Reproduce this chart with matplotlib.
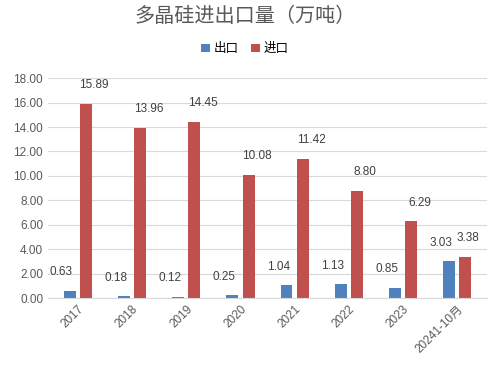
import numpy as np
import matplotlib.pyplot as plt

plt.rcParams['font.family'] = ['Liberation Sans', 'Noto Sans CJK SC', 'DejaVu Sans']

years = ['2017', '2018', '2019', '2020', '2021', '2022', '2023', '20241-10月']
export = [0.63, 0.18, 0.12, 0.25, 1.04, 1.13, 0.85, 3.03]
imports = [15.89, 13.96, 14.45, 10.08, 11.42, 8.80, 6.29, 3.38]

fig = plt.figure(figsize=(4.9, 3.65), dpi=100)
ax = fig.add_axes([0.098, 0.183, 0.896, 0.603])

x = np.arange(len(years))
w = 0.22
b1 = ax.bar(x - w / 2 - 0.04, export, w, color='#4f81bd', label='出口')
b2 = ax.bar(x + w / 2 + 0.04, imports, w, color='#c0504d', label='进口')

for rect, v in zip(b1, export):
    ax.annotate(f'{v:.2f}', (rect.get_x() + rect.get_width() / 2, v),
                xytext=(-6, 9), textcoords='offset points', ha='center', va='bottom',
                fontsize=8.5, color='#404040')
for rect, v in zip(b2, imports):
    ax.annotate(f'{v:.2f}', (rect.get_x() + rect.get_width() / 2, v),
                xytext=(6 if v > 5 else 2, 9), textcoords='offset points', ha='center', va='bottom',
                fontsize=8.5, color='#404040')

ax.set_ylim(0, 18)
ax.set_yticks(np.arange(0, 18.01, 2))
ax.set_yticklabels([f'{t:.2f}' for t in np.arange(0, 18.01, 2)], fontsize=8.5, color='#595959')
ax.set_xlim(-0.55, len(years) - 0.45)
ax.set_xticks(x)
ax.set_xticklabels(years, rotation=45, ha='right', rotation_mode='anchor', fontsize=8.5, color='#595959')
ax.grid(axis='y', color='#d9d9d9', linewidth=0.8)
ax.set_axisbelow(True)
for s in ['top', 'right', 'left']:
    ax.spines[s].set_visible(False)
ax.spines['bottom'].set_color('#d9d9d9')
ax.tick_params(length=0)

fig.text(0.5, 0.955, '多晶硅进出口量（万吨）', ha='center', va='center', fontsize=14.5, color='#595959')
fig.legend(loc='center', bbox_to_anchor=(0.5, 0.865), ncol=2, frameon=False, fontsize=9,
           handlelength=0.7, handleheight=0.7, columnspacing=1.0, handletextpad=0.3)

fig.savefig('out.png', dpi=100)
